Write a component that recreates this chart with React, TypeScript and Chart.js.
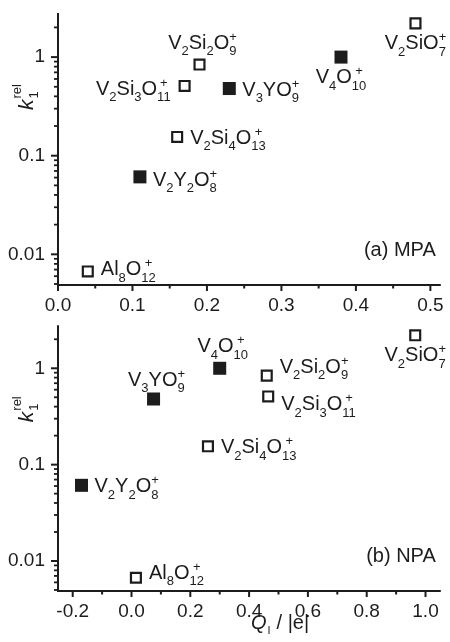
import React, { useEffect, useRef } from "react";
import { Chart, registerables } from "chart.js";
Chart.register(...registerables);

// ---------------- data ----------------
const species = [
  "V_2SiO_7^+",
  "V_4O_{10}^+",
  "V_3YO_9^+",
  "V_2Si_2O_9^+",
  "V_2Si_3O_{11}^+",
  "V_2Si_4O_{13}^+",
  "V_2Y_2O_8^+",
  "Al_8O_{12}^+",
];
const filled = [false, true, true, false, false, false, true, false];
const kRel = [2.2, 1.0, 0.48, 0.84, 0.51, 0.155, 0.061, 0.0067];
const qMPA = [0.48, 0.38, 0.23, 0.19, 0.17, 0.16, 0.11, 0.04];
const qNPA = [0.965, 0.3, 0.075, 0.46, 0.465, 0.26, -0.17, 0.015];

const xTicksMPA = [0.0, 0.1, 0.2, 0.3, 0.4, 0.5];
const xTicksNPA = [-0.2, 0.0, 0.2, 0.4, 0.6, 0.8, 1.0];
const yDecades = [0.01, 0.1, 1];

// label placement (style only)
type Place = { side: "right" | "left" | "above" | "below"; dy?: number };
const placeMPA: Place[] = [
  { side: "below" },
  { side: "below" },
  { side: "right" },
  { side: "above" },
  { side: "left", dy: 2 },
  { side: "right" },
  { side: "right", dy: 2 },
  { side: "right", dy: -3 },
];
const placeNPA: Place[] = [
  { side: "below" },
  { side: "above" },
  { side: "above", dy: 3 },
  { side: "right", dy: -10 },
  { side: "right", dy: 7 },
  { side: "right" },
  { side: "right" },
  { side: "right", dy: -6 },
];

// ---------------- helpers ----------------
const FONT = '"Liberation Sans", Arial, Helvetica, sans-serif';
const INK = "#1c1c1c";
const MAIN = `20px ${FONT}`;
const SCRIPT = `13px ${FONT}`;

type Seg = { text?: string; sub?: string; sup?: string };
function parseFormula(s: string): Seg[] {
  const segs: Seg[] = [];
  let i = 0;
  while (i < s.length) {
    const c = s[i];
    if (c === "_" || c === "^") {
      i++;
      let g = "";
      if (s[i] === "{") {
        const j = s.indexOf("}", i);
        g = s.slice(i + 1, j);
        i = j + 1;
      } else {
        g = s[i];
        i++;
      }
      const key = c === "_" ? "sub" : "sup";
      let last: any = segs[segs.length - 1];
      if (!last || last.text !== undefined || last[key] !== undefined) {
        last = {};
        segs.push(last);
      }
      last[key] = g;
    } else {
      let last = segs[segs.length - 1];
      if (!last || last.text === undefined) {
        last = { text: "" };
        segs.push(last);
      }
      last.text += c;
      i++;
    }
  }
  return segs;
}

function richWidth(ctx: CanvasRenderingContext2D, segs: Seg[], main: string, script: string) {
  let w = 0;
  for (const s of segs) {
    if (s.text !== undefined) {
      ctx.font = main;
      w += ctx.measureText(s.text).width;
    } else {
      ctx.font = script;
      w += Math.max(
        s.sub ? ctx.measureText(s.sub).width : 0,
        s.sup ? ctx.measureText(s.sup).width : 0
      );
    }
  }
  return w;
}

function drawRich(
  ctx: CanvasRenderingContext2D,
  segs: Seg[],
  x: number,
  y: number,
  main: string,
  script: string,
  subDy: number,
  supDy: number
) {
  ctx.textAlign = "left";
  ctx.textBaseline = "alphabetic";
  let cx = x;
  for (const s of segs) {
    if (s.text !== undefined) {
      ctx.font = main;
      ctx.fillText(s.text, cx, y);
      cx += ctx.measureText(s.text).width;
    } else {
      ctx.font = script;
      const ws = s.sub ? ctx.measureText(s.sub).width : 0;
      const wp = s.sup ? ctx.measureText(s.sup).width : 0;
      const w = Math.max(ws, wp);
      if (s.sub) ctx.fillText(s.sub, cx, y + subDy);
      if (s.sup) ctx.fillText(s.sup, cx + (w - wp) / 2, y + supDy);
      cx += w;
    }
  }
}

type PanelCfg = {
  q: number[];
  places: Place[];
  xMin: number;
  xMax: number;
  xTicks: number[];
  tag: string;
  height: number;
  padTop: number;
  xAxisH: number;
  xTitle: boolean;
};

function minorX(t: number[]) {
  const out: number[] = [];
  for (let i = 0; i < t.length - 1; i++) out.push((t[i] + t[i + 1]) / 2);
  return out;
}
function minorY(min: number, max: number) {
  const out: number[] = [];
  for (let e = -4; e <= 1; e++) {
    for (let m = 1; m <= 9; m++) {
      const v = m * Math.pow(10, e);
      if (v >= min * 0.999 && v <= max * 1.001 && m !== 1) out.push(v);
    }
  }
  return out;
}

const Y_MIN = 0.005;
const Y_MAX = 2.8;

function makePlugin(p: PanelCfg) {
  return {
    id: "panelDecor",
    afterDraw(chart: any) {
      const ctx: CanvasRenderingContext2D = chart.ctx;
      const a = chart.chartArea;
      const xs = chart.scales.x;
      const ys = chart.scales.y;
      ctx.save();
      ctx.strokeStyle = INK;
      ctx.fillStyle = INK;
      // axis lines
      ctx.lineWidth = 2;
      ctx.beginPath();
      ctx.moveTo(a.left, a.top);
      ctx.lineTo(a.left, a.bottom + 1);
      ctx.moveTo(a.left - 1, a.bottom + 1);
      ctx.lineTo(a.right, a.bottom + 1);
      ctx.stroke();
      // x ticks
      ctx.lineWidth = 2;
      for (const v of p.xTicks) {
        const px = xs.getPixelForValue(v);
        ctx.beginPath();
        ctx.moveTo(px, a.bottom + 1);
        ctx.lineTo(px, a.bottom + 7);
        ctx.stroke();
      }
      for (const v of minorX(p.xTicks)) {
        const px = xs.getPixelForValue(v);
        ctx.beginPath();
        ctx.moveTo(px, a.bottom + 1);
        ctx.lineTo(px, a.bottom + 4.5);
        ctx.stroke();
      }
      // y ticks
      for (const v of yDecades) {
        const py = ys.getPixelForValue(v);
        ctx.beginPath();
        ctx.moveTo(a.left, py);
        ctx.lineTo(a.left - 7, py);
        ctx.stroke();
      }
      ctx.lineWidth = 1.8;
      for (const v of minorY(Y_MIN, Y_MAX)) {
        const py = ys.getPixelForValue(v);
        ctx.beginPath();
        ctx.moveTo(a.left, py);
        ctx.lineTo(a.left - 4, py);
        ctx.stroke();
      }
      // point labels
      species.forEach((f, i) => {
        const segs = parseFormula(f);
        const w = richWidth(ctx, segs, MAIN, SCRIPT);
        const px = xs.getPixelForValue(p.q[i]);
        const py = ys.getPixelForValue(kRel[i]);
        const pl = p.places[i];
        let x = px,
          y = py;
        if (pl.side === "right") {
          x = px + 13;
          y = py + 7;
        } else if (pl.side === "left") {
          x = px - 14 - w;
          y = py + 7;
        } else if (pl.side === "below") {
          x = px - w / 2;
          y = py + 26;
        } else {
          x = px - w / 2 + 3;
          y = py - 16;
        }
        y += pl.dy || 0;
        drawRich(ctx, segs, x, y, MAIN, SCRIPT, 6.5, -8);
      });
      // panel tag
      ctx.font = `20px ${FONT}`;
      ctx.textAlign = "right";
      ctx.textBaseline = "middle";
      ctx.fillText(p.tag, a.right - 5, a.bottom - 34);
      // y title (rotated)
      ctx.save();
      ctx.translate(a.left - 25, a.top + 97);
      ctx.rotate(-Math.PI / 2);
      ctx.textAlign = "left";
      ctx.textBaseline = "alphabetic";
      ctx.font = `italic 21px ${FONT}`;
      ctx.fillText("k", 0, 0);
      const kw = ctx.measureText("k").width;
      ctx.font = `13px ${FONT}`;
      ctx.fillText("1", kw + 1, 5);
      ctx.fillText("rel", kw + 1, -12);
      ctx.restore();
      // x title
      if (p.xTitle) {
        const bx = 251;
        const by = a.bottom + 39;
        ctx.textAlign = "left";
        ctx.textBaseline = "alphabetic";
        ctx.font = `italic 20px ${FONT}`;
        ctx.fillText("Q", bx, by);
        const qw = ctx.measureText("Q").width;
        ctx.font = `11px ${FONT}`;
        ctx.fillText("I", bx + qw + 1, by + 5);
        ctx.font = `20px ${FONT}`;
        ctx.fillText("/ |e|", bx + qw + 10, by);
      }
      ctx.restore();
    },
  };
}

function buildChart(canvas: HTMLCanvasElement, p: PanelCfg) {
  const data = p.q.map((x, i) => ({ x, y: kRel[i] }));
  return new Chart(canvas, {
    type: "scatter",
    data: {
      datasets: [
        {
          data,
          pointStyle: "rect",
          pointRadius: filled.map((f) => (f ? 9.2 : 7)),
          pointHoverRadius: filled.map((f) => (f ? 9.2 : 7)),
          pointBackgroundColor: filled.map((f) => (f ? INK : "#ffffff")),
          pointBorderColor: INK,
          pointBorderWidth: filled.map((f) => (f ? 0 : 2.2)),
          clip: false,
        } as any,
      ],
    },
    options: {
      animation: false,
      responsive: false,
      events: [],
      layout: { padding: { left: 0, right: 7, top: p.padTop, bottom: 0 } },
      plugins: { legend: { display: false }, tooltip: { enabled: false } },
      scales: {
        x: {
          type: "linear",
          min: p.xMin,
          max: p.xMax,
          grid: { display: false, drawTicks: false },
          border: { display: false },
          afterFit: (s: any) => {
            s.height = p.xAxisH;
            s.paddingLeft = 0;
            s.paddingRight = 0;
          },
          afterBuildTicks: (s: any) => {
            s.ticks = p.xTicks.map((v) => ({ value: v }));
          },
          ticks: {
            autoSkip: false,
            maxRotation: 0,
            padding: 10,
            color: INK,
            font: { family: FONT, size: 19 },
            callback: (v: any) => Number(v).toFixed(1),
          },
        },
        y: {
          type: "logarithmic",
          min: Y_MIN,
          max: Y_MAX,
          grid: { display: false, drawTicks: false },
          border: { display: false },
          afterFit: (s: any) => {
            s.width = 58;
            s.paddingTop = 0;
            s.paddingBottom = 0;
          },
          afterBuildTicks: (s: any) => {
            s.ticks = yDecades.map((v) => ({ value: v }));
          },
          ticks: {
            autoSkip: false,
            padding: 13,
            color: INK,
            font: { family: FONT, size: 19 },
            callback: (v: any) => String(Number(v)),
          },
        },
      },
    },
    plugins: [makePlugin(p) as any],
  });
}

const TOP: PanelCfg = {
  q: qMPA,
  places: placeMPA,
  xMin: 0,
  xMax: 0.514,
  xTicks: xTicksMPA,
  tag: "(a) MPA",
  height: 316,
  padTop: 13,
  xAxisH: 32,
  xTitle: false,
};
const BOTTOM: PanelCfg = {
  q: qNPA,
  places: placeNPA,
  xMin: -0.25,
  xMax: 1.052,
  xTicks: xTicksNPA,
  tag: "(b) NPA",
  height: 326,
  padTop: 2,
  xAxisH: 52,
  xTitle: true,
};

function Panel({ cfg, top }: { cfg: PanelCfg; top: number }) {
  const ref = useRef<HTMLCanvasElement | null>(null);
  useEffect(() => {
    if (!ref.current) return;
    const c = buildChart(ref.current, cfg);
    return () => c.destroy();
  }, [cfg]);
  return (
    <canvas
      ref={ref}
      width={450}
      height={cfg.height}
      style={{ position: "absolute", left: 0, top, width: 450, height: cfg.height, display: "block" }}
    />
  );
}

export default function App() {
  return (
    <div style={{ position: "absolute", left: 0, top: 0, width: 450, height: 642, background: "#fff", overflow: "hidden" }}>
      <Panel cfg={TOP} top={0} />
      <Panel cfg={BOTTOM} top={316} />
    </div>
  );
}
